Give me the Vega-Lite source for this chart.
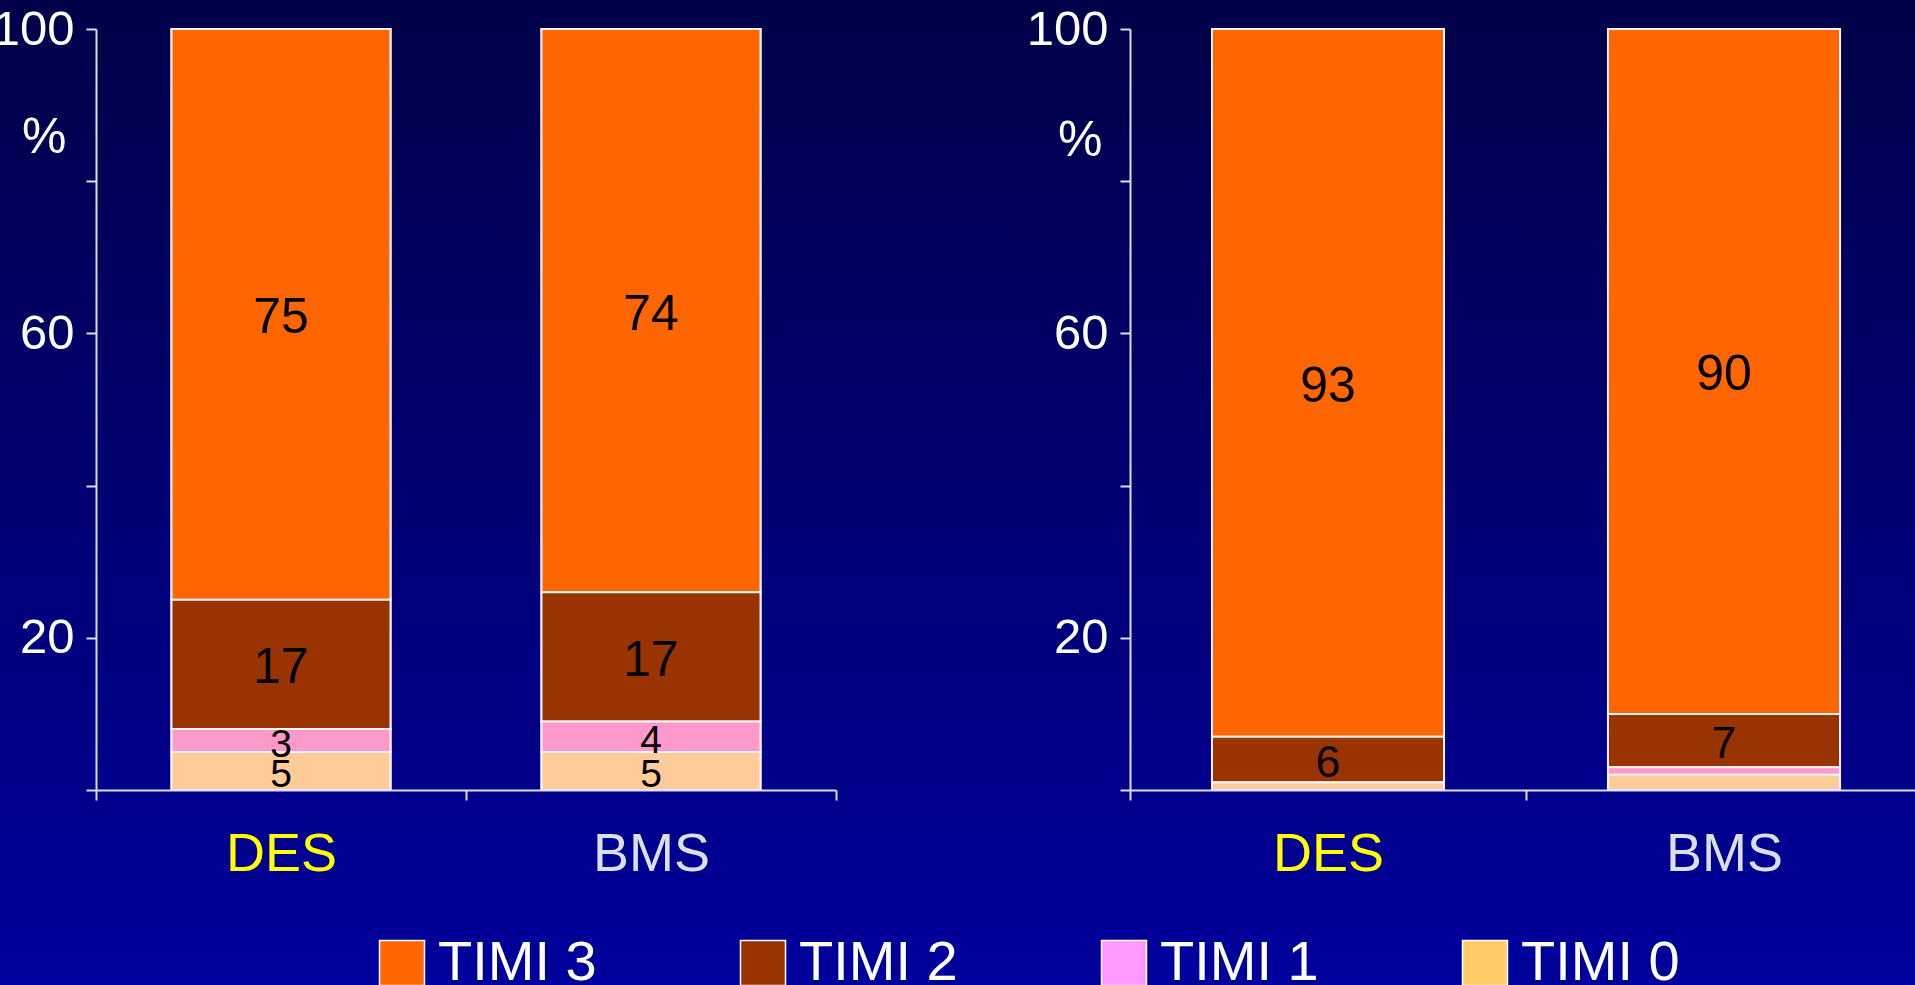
{
  "$schema": "https://vega.github.io/schema/vega-lite/v6.json",
  "width": 1915,
  "height": 985,
  "padding": 0,
  "autosize": "none",
  "background": "#000070",
  "config": {
    "font": "Liberation Sans",
    "view": {"stroke": null},
    "axis": {
      "grid": false,
      "domainColor": "#DCDCEE",
      "domainWidth": 2,
      "tickColor": "#DCDCEE",
      "tickWidth": 2,
      "tickSize": 10,
      "labelFont": "Liberation Sans",
      "titleFont": "Liberation Sans"
    }
  },
  "datasets": {
    "timi": [
      {"panel": "1", "stent": "DES", "timi": "TIMI 3", "value": 75},
      {"panel": "1", "stent": "DES", "timi": "TIMI 2", "value": 17},
      {"panel": "1", "stent": "DES", "timi": "TIMI 1", "value": 3},
      {"panel": "1", "stent": "DES", "timi": "TIMI 0", "value": 5},
      {"panel": "1", "stent": "BMS", "timi": "TIMI 3", "value": 74},
      {"panel": "1", "stent": "BMS", "timi": "TIMI 2", "value": 17},
      {"panel": "1", "stent": "BMS", "timi": "TIMI 1", "value": 4},
      {"panel": "1", "stent": "BMS", "timi": "TIMI 0", "value": 5},
      {"panel": "2", "stent": "DES", "timi": "TIMI 3", "value": 93},
      {"panel": "2", "stent": "DES", "timi": "TIMI 2", "value": 6},
      {"panel": "2", "stent": "DES", "timi": "TIMI 1", "value": 0},
      {"panel": "2", "stent": "DES", "timi": "TIMI 0", "value": 1},
      {"panel": "2", "stent": "BMS", "timi": "TIMI 3", "value": 90},
      {"panel": "2", "stent": "BMS", "timi": "TIMI 2", "value": 7},
      {"panel": "2", "stent": "BMS", "timi": "TIMI 1", "value": 1},
      {"panel": "2", "stent": "BMS", "timi": "TIMI 0", "value": 2}
    ]
  },
  "layer": [
    {
      "data": {"values": [{}]},
      "mark": {
        "type": "rect",
        "fill": {
          "gradient": "linear",
          "x1": 0, "y1": 0, "x2": 0, "y2": 1,
          "stops": [
            {"offset": 0, "color": "#000048"},
            {"offset": 1, "color": "#00009C"}
          ]
        }
      },
      "encoding": {}
    },
    {
      "data": {"name": "timi"},
      "transform": [{"filter": "datum.panel === '1'"}],
      "mark": {"type": "bar", "stroke": "#F4F4F4", "strokeWidth": 2, "width": {"band": 0.592}},
      "encoding": {
        "x": {
          "field": "stent", "type": "nominal", "sort": ["DES", "BMS"],
          "scale": {"range": [96, 836], "paddingInner": 0, "paddingOuter": 0},
          "axis": null
        },
        "y": {
          "field": "value", "type": "quantitative", "stack": "zero",
          "scale": {"domain": [0, 100], "range": [790, 29], "nice": false},
          "axis": null
        },
        "fill": {
          "field": "timi", "type": "nominal",
          "scale": {"domain": ["TIMI 3", "TIMI 2", "TIMI 1", "TIMI 0"], "range": ["#FF6600", "#993300", "#FF99FF", "#FFCC66"]},
          "legend": {
            "orient": "none", "legendX": 374, "legendY": 935, "direction": "horizontal", "columns": 4,
            "title": null, "padding": 0, "gridAlign": "all", "columnPadding": 138,
            "symbolType": "square", "symbolSize": 2025, "symbolStrokeColor": "#FFFFFF", "symbolStrokeWidth": 1.5, "symbolOpacity": 1,
            "labelFontSize": 56, "labelColor": "#FFFFFF", "labelOffset": 8, "labelLimit": 0
          }
        },
        "order": {"field": "timi", "sort": "ascending"}
      }
    },
    {
      "data": {"name": "timi"},
      "transform": [{"filter": "datum.panel === '1'"}],
      "mark": {"type": "bar", "stroke": "#F4F4F4", "strokeWidth": 2, "width": {"band": 0.592}},
      "encoding": {
        "x": {
          "field": "stent", "type": "nominal", "sort": ["DES", "BMS"],
          "scale": {"range": [96, 836], "paddingInner": 0, "paddingOuter": 0},
          "axis": {
            "zindex": 1,
            "orient": "bottom", "offset": -195, "title": null, "tickBand": "extent",
            "labelAngle": 0, "labelFontSize": 54, "labelBaseline": "alphabetic", "labelPadding": 70,
            "labelColor": {"condition": {"test": "datum.value === 'DES'", "value": "#FFFF00"}, "value": "#DDDDE4"}
          }
        },
        "y": {
          "field": "value", "type": "quantitative", "stack": "zero",
          "scale": {"domain": [0, 100], "range": [790, 29], "nice": false},
          "axis": {
            "zindex": 1,
            "orient": "left", "offset": -96, "values": [0, 20, 40, 60, 80, 100],
            "labelExpr": "datum.value == 100 || datum.value == 60 || datum.value == 20 ? datum.label : ''",
            "labelFontSize": 49, "labelColor": "#FFFFFF", "labelPadding": 12, "labelFlush": false,
            "title": "%", "titleAngle": 0, "titleAlign": "right", "titleBaseline": "middle",
            "titleX": -30, "titleY": 137, "titleFontSize": 50, "titleFontWeight": "normal", "titleColor": "#FFFFFF"
          }
        },
        "color": {
          "field": "timi", "type": "nominal",
          "scale": {"domain": ["TIMI 3", "TIMI 2", "TIMI 1", "TIMI 0"], "range": ["#FF6600", "#993300", "#FF99CC", "#FFCC99"]},
          "legend": null
        },
        "order": {"field": "timi", "sort": "ascending"}
      }
    },
    {
      "data": {"name": "timi"},
      "transform": [{"filter": "datum.panel === '1'"}],
      "mark": {"type": "text", "color": "#000000", "baseline": "middle", "dy": 4},
      "encoding": {
        "x": {
          "field": "stent", "type": "nominal", "sort": ["DES", "BMS"],
          "scale": {"range": [96, 836], "paddingInner": 0, "paddingOuter": 0},
          "axis": null
        },
        "y": {
          "field": "value", "type": "quantitative", "stack": "zero", "bandPosition": 0.5,
          "scale": {"domain": [0, 100], "range": [790, 29], "nice": false},
          "axis": null
        },
        "size": {
          "field": "value", "type": "quantitative",
          "scale": {"type": "threshold", "domain": [6, 10], "range": [39, 44, 50]},
          "legend": null
        },
        "detail": {"field": "timi"},
        "order": {"field": "timi", "sort": "ascending"},
        "text": {"condition": {"test": "datum.value < 3", "value": ""}, "field": "value", "type": "quantitative"}
      }
    },
    {
      "data": {"name": "timi"},
      "transform": [{"filter": "datum.panel === '2'"}],
      "mark": {"type": "bar", "stroke": "#F4F4F4", "strokeWidth": 2, "width": {"band": 0.586}},
      "encoding": {
        "x": {
          "field": "stent", "type": "nominal", "sort": ["DES", "BMS"],
          "scale": {"range": [1130, 1922], "paddingInner": 0, "paddingOuter": 0},
          "axis": {
            "zindex": 1,
            "orient": "bottom", "offset": -195, "title": null, "tickBand": "extent",
            "labelAngle": 0, "labelFontSize": 54, "labelBaseline": "alphabetic", "labelPadding": 70,
            "labelColor": {"condition": {"test": "datum.value === 'DES'", "value": "#FFFF00"}, "value": "#DDDDE4"}
          }
        },
        "y": {
          "field": "value", "type": "quantitative", "stack": "zero",
          "scale": {"domain": [0, 100], "range": [790, 29], "nice": false},
          "axis": {
            "zindex": 1,
            "orient": "left", "offset": -1130, "values": [0, 20, 40, 60, 80, 100],
            "labelExpr": "datum.value == 100 || datum.value == 60 || datum.value == 20 ? datum.label : ''",
            "labelFontSize": 49, "labelColor": "#FFFFFF", "labelPadding": 12, "labelFlush": false,
            "title": "%", "titleAngle": 0, "titleAlign": "right", "titleBaseline": "middle",
            "titleX": -28, "titleY": 140, "titleFontSize": 50, "titleFontWeight": "normal", "titleColor": "#FFFFFF"
          }
        },
        "color": {
          "field": "timi", "type": "nominal",
          "scale": {"domain": ["TIMI 3", "TIMI 2", "TIMI 1", "TIMI 0"], "range": ["#FF6600", "#993300", "#FF99CC", "#FFCC99"]},
          "legend": null
        },
        "order": {"field": "timi", "sort": "ascending"}
      }
    },
    {
      "data": {"name": "timi"},
      "transform": [{"filter": "datum.panel === '2'"}],
      "mark": {"type": "text", "color": "#000000", "baseline": "middle", "dy": 4},
      "encoding": {
        "x": {
          "field": "stent", "type": "nominal", "sort": ["DES", "BMS"],
          "scale": {"range": [1130, 1922], "paddingInner": 0, "paddingOuter": 0},
          "axis": null
        },
        "y": {
          "field": "value", "type": "quantitative", "stack": "zero", "bandPosition": 0.5,
          "scale": {"domain": [0, 100], "range": [790, 29], "nice": false},
          "axis": null
        },
        "size": {
          "field": "value", "type": "quantitative",
          "scale": {"type": "threshold", "domain": [6, 10], "range": [39, 44, 50]},
          "legend": null
        },
        "detail": {"field": "timi"},
        "order": {"field": "timi", "sort": "ascending"},
        "text": {"condition": {"test": "datum.value < 3", "value": ""}, "field": "value", "type": "quantitative"}
      }
    }
  ],
  "resolve": {
    "scale": {"x": "independent"},
    "axis": {"x": "independent", "y": "independent"}
  }
}
